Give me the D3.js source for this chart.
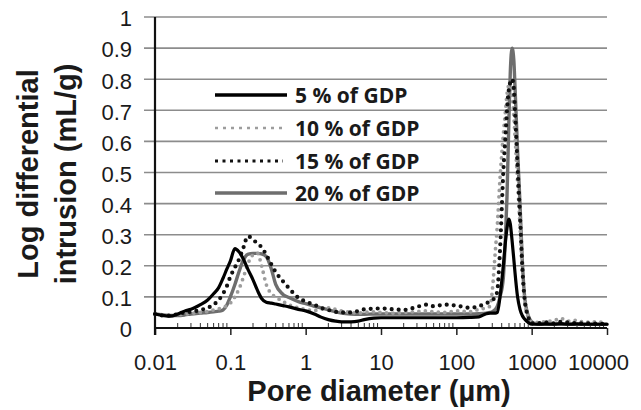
<!DOCTYPE html>
<html>
<head>
<meta charset="utf-8">
<script src="https://cdn.jsdelivr.net/npm/d3@7/dist/d3.min.js"></script>
<style>
  body { margin: 0; background: #fff; }
  svg { display: block; }
</style>
</head>
<body>
<svg id="chart" width="641" height="410"></svg>
<script>
// Pore diameter grid (µm) shared by all four series
const diameters = [0.01, 0.013, 0.016, 0.02, 0.025, 0.03, 0.04, 0.05, 0.06, 0.07, 0.08, 0.09,
  0.1, 0.115, 0.13, 0.15, 0.17, 0.2, 0.23, 0.26, 0.3, 0.35, 0.4, 0.5, 0.6, 0.8,
  1, 1.3, 1.6, 2, 2.5, 3, 4, 5, 6, 8, 10, 15, 20, 30, 40, 50, 70, 100, 150, 200,
  250, 280, 300, 330, 350, 380, 420, 450, 470, 500, 520, 550, 580, 600, 650, 700,
  750, 800, 900, 1000, 1200, 1500, 2000, 2500, 3000, 4000, 5000, 7000, 10000];

// Log differential intrusion (mL/g)
const gdp5 = [0.045, 0.04, 0.038, 0.045, 0.055, 0.06, 0.075, 0.09, 0.11, 0.13, 0.16, 0.19,
  0.215, 0.255, 0.245, 0.22, 0.19, 0.155, 0.12, 0.095, 0.083, 0.08, 0.077, 0.072, 0.068, 0.06,
  0.055, 0.045, 0.035, 0.027, 0.022, 0.02, 0.02, 0.022, 0.027, 0.032, 0.033, 0.033, 0.033, 0.033, 0.033, 0.033, 0.033, 0.033, 0.034, 0.036,
  0.046, 0.048, 0.048, 0.048, 0.05, 0.1, 0.2, 0.28, 0.32, 0.35, 0.335, 0.28, 0.22, 0.18, 0.1, 0.06,
  0.04, 0.03, 0.018, 0.012, 0.012, 0.013, 0.012, 0.014, 0.012, 0.013, 0.012, 0.012, 0.012];

const gdp10 = [0.045, 0.042, 0.04, 0.042, 0.045, 0.047, 0.05, 0.053, 0.058, 0.062, 0.066, 0.072,
  0.08, 0.1, 0.125, 0.165, 0.205, 0.235, 0.24, 0.2, 0.14, 0.11, 0.1, 0.085, 0.075, 0.065,
  0.06, 0.056, 0.06, 0.065, 0.06, 0.055, 0.05, 0.048, 0.05, 0.052, 0.05, 0.048, 0.05, 0.053, 0.055, 0.052, 0.05, 0.055, 0.052, 0.06,
  0.065, 0.07, 0.12, 0.25, 0.33, 0.48, 0.62, 0.7, 0.75, 0.78, 0.78, 0.75, 0.68, 0.62, 0.47, 0.33,
  0.2, 0.1, 0.035, 0.02, 0.018, 0.02, 0.025, 0.03, 0.022, 0.025, 0.018, 0.02, 0.015];

const gdp15 = [0.045, 0.04, 0.04, 0.045, 0.05, 0.052, 0.058, 0.065, 0.075, 0.09, 0.11, 0.135,
  0.165, 0.195, 0.22, 0.26, 0.295, 0.285, 0.27, 0.26, 0.235, 0.205, 0.18, 0.15, 0.128, 0.097,
  0.085, 0.075, 0.065, 0.058, 0.052, 0.05, 0.05, 0.055, 0.06, 0.062, 0.063, 0.06, 0.058, 0.068, 0.075, 0.07, 0.075, 0.072, 0.065, 0.07,
  0.08, 0.085, 0.09, 0.1, 0.12, 0.25, 0.5, 0.62, 0.7, 0.77, 0.79, 0.8, 0.77, 0.7, 0.52, 0.36,
  0.2, 0.1, 0.035, 0.015, 0.015, 0.018, 0.015, 0.02, 0.018, 0.015, 0.015, 0.014, 0.013];

const gdp20 = [0.045, 0.042, 0.04, 0.04, 0.042, 0.045, 0.048, 0.05, 0.052, 0.054, 0.058, 0.074,
  0.1, 0.14, 0.18, 0.22, 0.237, 0.24, 0.24, 0.238, 0.23, 0.19, 0.14, 0.108, 0.098, 0.085,
  0.078, 0.07, 0.065, 0.058, 0.052, 0.048, 0.045, 0.044, 0.044, 0.045, 0.045, 0.045, 0.045, 0.045, 0.045, 0.045, 0.045, 0.045, 0.045, 0.046,
  0.048, 0.05, 0.052, 0.06, 0.07, 0.1, 0.16, 0.3, 0.42, 0.68, 0.82, 0.9, 0.86, 0.78, 0.57, 0.4,
  0.22, 0.11, 0.04, 0.02, 0.012, 0.012, 0.013, 0.012, 0.012, 0.012, 0.012, 0.012, 0.012];

const seriesNames = ["5 % of GDP", "10 % of GDP", "15 % of GDP", "20 % of GDP"];
const yTicks = [0, 0.1, 0.2, 0.3, 0.4, 0.5, 0.6, 0.7, 0.8, 0.9, 1];
const yTickLabels = ["0", "0.1", "0.2", "0.3", "0.4", "0.5", "0.6", "0.7", "0.8", "0.9", "1"];
const xTicks = [0.01, 0.1, 1, 10, 100, 1000, 10000];
const xTickLabels = ["0.01", "0.1", "1", "10", "100", "1000", "10000"];

const svg = d3.select("#chart");
const x = d3.scaleLog().domain([0.01, 10000]).range([155, 607]);
const y = d3.scaleLinear().domain([0, 1]).range([328, 17]);
const FONT = "'Liberation Sans', Arial, sans-serif";

// Horizontal gridlines (they also form the outside tick marks on the left)
svg.append("g")
  .selectAll("line")
  .data(yTicks.slice(1))
  .join("line")
  .attr("x1", 144).attr("x2", 607)
  .attr("y1", d => y(d)).attr("y2", d => y(d))
  .attr("stroke", "#8c8c8c").attr("stroke-width", 1.6);

// Y tick labels
const yAxis = svg.append("g")
  .attr("transform", "translate(155,0)")
  .call(d3.axisLeft(y).tickValues(yTicks).tickSize(0).tickPadding(23)
    .tickFormat((d, i) => yTickLabels[i]));
yAxis.select(".domain").remove();
yAxis.selectAll("text")
  .attr("font-family", FONT).attr("font-size", 22).attr("fill", "#1a1a1a")
  .attr("dy", "0.4em");

// X axis: major ticks below, labels
const xAxis = svg.append("g")
  .attr("transform", "translate(0,328)")
  .call(d3.axisBottom(x).tickValues(xTicks).tickSize(7).tickPadding(19)
    .tickFormat((d, i) => xTickLabels[i]));
xAxis.select(".domain").remove();
xAxis.selectAll(".tick line").attr("stroke", "#222").attr("stroke-width", 1.5);
xAxis.selectAll("text")
  .attr("font-family", FONT).attr("font-size", 22).attr("fill", "#1a1a1a")
  .attr("dx", (d, i) => i === xTicks.length - 1 ? -9 : 0);

// Minor ticks inside the plot, 2..9 in every decade
const minor = [];
xTicks.slice(0, -1).forEach(t => { for (let k = 2; k <= 9; k++) minor.push(t * k); });
svg.append("g")
  .selectAll("line")
  .data(minor)
  .join("line")
  .attr("x1", d => x(d)).attr("x2", d => x(d))
  .attr("y1", 328).attr("y2", 323)
  .attr("stroke", "#333").attr("stroke-width", 1);

// Axis lines
svg.append("line").attr("x1", 155).attr("x2", 607).attr("y1", 328).attr("y2", 328)
  .attr("stroke", "#111").attr("stroke-width", 2.2);
svg.append("line").attr("x1", 155).attr("x2", 155).attr("y1", 17).attr("y2", 335)
  .attr("stroke", "#111").attr("stroke-width", 2.2);

// Series
const series = [
  { name: seriesNames[3], values: gdp20, color: "#6e6e6e", width: 3.4, dash: null, cap: "round" },
  { name: seriesNames[1], values: gdp10, color: "#9d9d9d", width: 3.8, dash: "0,6.5", cap: "round" },
  { name: seriesNames[2], values: gdp15, color: "#111", width: 4.2, dash: "0,7", cap: "round" },
  { name: seriesNames[0], values: gdp5, color: "#000", width: 3.2, dash: null, cap: "round" }
];

const line = d3.line()
  .x(d => x(d[0]))
  .y(d => y(d[1]))
  .curve(d3.curveMonotoneX);

svg.append("g")
  .selectAll("path")
  .data(series)
  .join("path")
  .attr("d", s => line(diameters.map((dv, i) => [dv, s.values[i]])))
  .attr("fill", "none")
  .attr("stroke", s => s.color)
  .attr("stroke-width", s => s.width)
  .attr("stroke-linecap", s => s.cap)
  .attr("stroke-linejoin", "round")
  .attr("stroke-dasharray", s => s.dash);

// Legend
const legendItems = [
  { name: seriesNames[0], color: "#000", width: 3.4, dash: null, x2: 287 },
  { name: seriesNames[1], color: "#9d9d9d", width: 2.6, dash: "3,5", x2: 283 },
  { name: seriesNames[2], color: "#111", width: 3, dash: "3,4.5", x2: 283 },
  { name: seriesNames[3], color: "#6e6e6e", width: 3.4, dash: null, x2: 287 }
];
const legendY = [95, 128, 161, 193];
const lg = svg.append("g")
  .selectAll("g")
  .data(legendItems)
  .join("g")
  .attr("transform", (d, i) => `translate(0,${legendY[i]})`);
lg.append("line")
  .attr("x1", 215).attr("x2", d => d.x2)
  .attr("y1", 0).attr("y2", 0)
  .attr("stroke", d => d.color)
  .attr("stroke-width", d => d.width)
  .attr("stroke-dasharray", d => d.dash);
lg.append("text")
  .attr("x", 295).attr("y", 0).attr("dy", "0.36em")
  .attr("font-family", "'Open Sans', sans-serif")
  .attr("font-weight", 700).attr("font-size", 21)
  .attr("fill", "#1a1a1a")
  .text(d => d.name);

// Axis titles
svg.append("text")
  .attr("x", 379).attr("y", 401)
  .attr("text-anchor", "middle")
  .attr("font-family", FONT).attr("font-weight", 700).attr("font-size", 29)
  .attr("fill", "#1a1a1a")
  .text("Pore diameter (µm)");

const yTitle = ["Log differential", "intrusion (mL/g)"];
const yTitleX = [38, 76];
svg.append("g")
  .selectAll("text")
  .data(yTitle)
  .join("text")
  .attr("transform", (d, i) => `translate(${yTitleX[i]},174) rotate(-90)`)
  .attr("text-anchor", "middle")
  .attr("font-family", FONT).attr("font-weight", 700).attr("font-size", 29)
  .attr("fill", "#1a1a1a")
  .text(d => d);
</script>
</body>
</html>
